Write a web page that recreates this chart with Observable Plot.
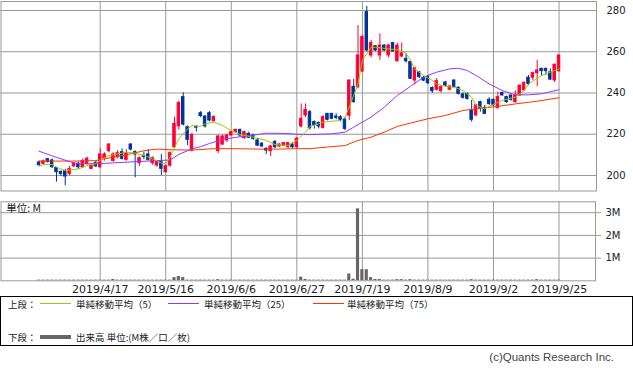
<!DOCTYPE html>
<html><head><meta charset="utf-8">
<script src="https://cdn.jsdelivr.net/npm/d3@7"></script>
<script src="https://cdn.jsdelivr.net/npm/@observablehq/plot@0.6"></script>
<style>
body{margin:0;background:#fff;width:633px;height:372px;position:relative;overflow:hidden;font-family:"DejaVu Sans",sans-serif;}
#price{position:absolute;left:0;top:0;}
#vol{position:absolute;left:0;top:200px;}
#legend{position:absolute;left:0;top:296px;width:631px;height:48px;border:1px solid #000;font-family:"Noto Sans CJK JP",sans-serif;font-size:9.5px;color:#222;}
#legend span{position:absolute;white-space:nowrap;line-height:12px;}
#legend i{position:absolute;display:block;}
#copy{position:absolute;right:19px;top:351px;font-family:"Liberation Sans",sans-serif;font-size:11.5px;color:#444;white-space:nowrap;}
</style></head>
<body>
<div id="price"></div>
<div id="vol"></div>
<div id="legend"></div>
<div id="copy"></div>
<script>
// ---- data ----
const open  = [206.3,205.7,207.9,207.3,203.6,201.8,202.1,200.8,204.4,205.7,204,205.7,203.2,206,204,208.1,211.8,207,208.9,211.3,207.6,215,211.3,206,209.5,210.2,206,204.8,206.5,201.6,204.8,213.7,223.8,238,223.4,212.1,223.5,230.2,228.6,230.2,226.3,211.8,215,217,219.4,221,222.1,218.1,220.2,219.4,217,215.4,212.9,211.8,216.2,214.1,214.5,213.7,215,213.7,223.8,229.1,230.7,225.9,225.4,223.1,229.9,229.9,228.6,228.3,227,229,243,242.8,250.4,279.2,258.2,262.7,258.2,263,258.2,264.2,255.4,257.7,256.6,255,246.1,250,247.4,247.7,242.4,241.6,240.9,245.1,241.6,246,242.5,239.3,239.6,231.5,229.1,235.6,232.8,236.7,236.7,232.8,240,238,238.8,235.6,238.8,241.3,247.4,247.4,249.6,251.7,251.7,250,246.1,250.6];
const high  = [207,207.5,208.3,208,204,202.1,203,204.5,206,206.5,208,209,205.5,207,212.9,211,215.5,211,212,212.9,212.5,215.5,212,209,211.3,212.6,209,207,210.2,205,211.5,228.3,236,240.1,224,220.5,224.2,231,229,231,229,219.5,219.5,220,221.5,222.5,222.5,221.5,221,220,218,216,213.5,214.5,217,215.5,216,216,216,218.5,234.7,234.7,231.5,226.5,226,229,230,230,229.9,229,228,246.5,246.6,272.7,268,282,265.5,263,268.7,263.5,263.5,264.5,264.2,264.2,259,255.5,252.5,250.5,248,248.5,243,247,243.5,245.5,243.5,246.5,243,240,240,236.4,234.5,236,234,237.7,237,240.4,240.5,238.5,239,241,243.6,245.5,248.5,250,255.8,252,252,251.7,254,258.2];
const low   = [204.5,205,206,203.5,196.8,199.5,195,200,204,203,203.5,205,203,204,203.5,207,211,206.5,208,207.5,207,212,198.9,204.4,207.6,207,205,204,200,201,204,213,222,224,214.5,211.5,221,228,223,226,226,210.5,214.5,216,219,220.5,218.5,217.5,218,217,214,213.5,210.2,209.2,213,213.5,214,213,213,213,223,228,222,222.5,222.6,222.5,226.5,227,227,225.9,221.8,226.7,235,242,250,260,257,260,255.8,260,257,260,255,257,254.5,246.5,244,247,245.5,244,239.8,241,240,243,241,242.5,239,237,236.5,225.9,228.5,230.7,229.5,234,233.5,232,238.5,235,236,235,238.5,241,243.5,246,243,248,248.5,246,245,250];
const close = [205,206.8,206.6,204,201.6,200.8,199.5,203.2,205.7,204,207,208.1,204.8,204.4,210.2,210.2,215,210.2,210.8,208.1,210.8,212.6,210.2,208.4,209,207.6,208.4,206.5,203.2,204.5,210.8,225,235.1,224.7,217.3,219.6,223.2,228.8,223.8,226.7,228.3,218.9,218.9,219.4,221,222.1,219.4,221,218.3,217.8,214.5,214.1,212.1,214.1,213.7,215,215.7,215.7,213.7,217.8,227.5,231.8,223,224.5,223.8,228.3,227,227.5,228,227,222.6,246,235.6,258.2,267.1,260.6,264.2,260.6,263,260.6,263,260.1,263,259.2,255.4,246.9,252,247.7,246,244.8,240.9,245.7,242.8,243.6,243.2,242.8,239.6,237.7,237.2,227,234,232.8,229.9,234.7,234,238,238.8,235.6,236.7,238.8,243.6,244.8,244.4,249.6,250.9,250.6,250.6,246.5,253.7,258.2];
// volume, millions of shares
const volume = [0.03,0.03,0.03,0.03,0.03,0.03,0.03,0.03,0.03,0.03,0.03,0.03,0.03,0.03,0.03,0.03,0.03,0.06,0.03,0.03,0.03,0.03,0.03,0.03,0.03,0.03,0.03,0.03,0.03,0.03,0.03,0.14,0.19,0.14,0.03,0.03,0.03,0.03,0.03,0.03,0.03,0.05,0.03,0.03,0.03,0.03,0.03,0.03,0.03,0.03,0.03,0.03,0.03,0.03,0.03,0.03,0.03,0.03,0.03,0.03,0.16,0.06,0.03,0.03,0.03,0.03,0.03,0.03,0.03,0.03,0.03,0.3,0.07,3.17,0.49,0.49,0.14,0.06,0.06,0.03,0.03,0.03,0.05,0.05,0.03,0.05,0.03,0.03,0.03,0.03,0.03,0.03,0.03,0.03,0.03,0.03,0.03,0.03,0.03,0.05,0.03,0.03,0.03,0.03,0.03,0.03,0.03,0.03,0.03,0.03,0.03,0.03,0.03,0.03,0.05,0.03,0.03,0.03,0.03,0.03];
// moving averages: [trading-day index, value]
const ma5 = [[0,204.4],[1,205.3],[3,205.3],[4,204],[6,202.4],[9,203.2],[11,204.8],[13,205.7],[14,207.3],[16,209.7],[19,210.8],[20,211.3],[22,210.8],[24,209.7],[26,208.1],[28,206],[29,205.7],[30,208.9],[32,217.8],[34,222.6],[35,224.2],[37,223.8],[38,225],[40,225.9],[42,224.2],[44,221.8],[46,219.9],[49,218.6],[52,217],[54,215],[57,214.5],[59,217],[61,221],[62,223.8],[64,225],[65,225.9],[67,226.3],[69,226.7],[70,228.3],[71,233.1],[73,244.4],[74,255.8],[76,262.2],[77,262.2],[80,261.4],[82,260.9],[84,259.3],[85,255.8],[86,251.7],[88,248.5],[90,246.1],[91,244.4],[93,243.2],[95,242.8],[97,241.2],[99,238],[100,234],[102,232.3],[103,233.5],[106,236.4],[108,237.5],[109,238],[111,241.2],[112,244.4],[115,248.5],[117,250.1],[119,251.7]];
const ma25 = [[0,211.8],[3,209.5],[7,206.7],[9,205.7],[13,205.7],[16,206],[22,206.7],[28,207.3],[30,207.5],[32,210.2],[35,212.9],[37,214],[39,215.5],[42,217.5],[45,218.5],[49,219.5],[52,220.5],[56,220.4],[59,220],[62,219.8],[67,220.2],[70,221],[72,223.4],[74,225.9],[76,228.3],[79,233.1],[82,238.8],[85,243.2],[88,247.7],[91,250.1],[94,251.7],[96,252],[98,250.9],[100,248.5],[103,244.4],[106,241.2],[109,239.1],[112,239.1],[115,239.6],[119,241.6]];
const ma75 = [[0,207],[8,207],[13,207.2],[16,208.5],[20,210],[24,212],[27,212.8],[30,212.5],[35,212.3],[40,213],[45,213],[50,212.8],[55,212.8],[59,213],[62,213],[66,213.8],[70,214.5],[73,217],[76,218.6],[79,221],[82,223.8],[85,225.4],[89,227.5],[93,229.1],[97,231.5],[100,232.3],[105,233.5],[109,234.7],[114,236],[119,237.7]];
const priceTicks = [200,220,240,260,280];
const volTicks = [1,2,3];
const tickIdx = [14,29,44,59,74,89,104,119];
const tickLabels = ["2019/4/17","2019/5/16","2019/6/6","2019/6/27","2019/7/19","2019/8/9","2019/9/2","2019/9/25"];
const legendTop = ["単純移動平均（5）","単純移動平均（25）","単純移動平均（75）"];
const legendBottom = "出来高 単位:(M株／口／枚)";

// ---- styles ----
const UP = "#FF0033", DOWN = "#003399";
const C5 = "#99CC00", C25 = "#9933FF", C75 = "#FF3300";
const GRID = "#999";

const candles = open.map((o, i) => ({i, o, h: high[i], l: low[i], c: close[i], v: volume[i]}));
const col = d => d.c >= d.o ? UP : DOWN;
const toPts = a => a.map(([i, v]) => ({i, v}));

const price = Plot.plot({
  width: 633, height: 192,
  marginTop: 1, marginBottom: 1.5, marginLeft: 0.5, marginRight: 37,
  x: {domain: [-8.7, 127.57], axis: null},
  y: {domain: [192.48, 284.36], axis: null},
  style: {fontFamily: "DejaVu Sans", fontSize: "10px", color: "#222", background: "transparent", overflow: "visible"},
  marks: [
    Plot.gridY(priceTicks, {stroke: GRID, strokeOpacity: 1}),
    Plot.gridX(tickIdx, {stroke: GRID, strokeOpacity: 1}),
    Plot.frame({stroke: GRID}),
    Plot.axisY(priceTicks, {anchor: "right", tickSize: 0, tickPadding: 10, label: null, fill: "#222"}),
    Plot.ruleX(candles, {x: "i", y1: "l", y2: "h", stroke: col, strokeWidth: 1}),
    Plot.rect(candles, {x1: d => d.i - 0.28, x2: d => d.i + 0.28, y1: "o", y2: "c", fill: col, stroke: col, strokeWidth: 1}),
    Plot.line(toPts(ma75), {x: "i", y: "v", stroke: C75, strokeWidth: 1}),
    Plot.line(toPts(ma25), {x: "i", y: "v", stroke: C25, strokeWidth: 1}),
    Plot.line(toPts(ma5), {x: "i", y: "v", stroke: C5, strokeWidth: 1})
  ]
});
document.getElementById("price").append(price);

const vol = Plot.plot({
  width: 633, height: 100,
  marginTop: 1.3, marginBottom: 19.7, marginLeft: 0.5, marginRight: 38,
  x: {domain: [-8.7, 127.35], axis: null},
  y: {domain: [0, 3.48], axis: null},
  style: {fontFamily: "DejaVu Sans", fontSize: "10px", color: "#222", background: "transparent", overflow: "visible"},
  marks: [
    Plot.gridY(volTicks, {stroke: GRID, strokeOpacity: 1}),
    Plot.gridX(tickIdx, {stroke: GRID, strokeOpacity: 1}),
    Plot.rectY(candles, {x1: d => d.i - 0.36, x2: d => d.i + 0.36, y: "v", fill: "#666"}),
    Plot.frame({stroke: GRID}),
    Plot.axisY(volTicks, {anchor: "right", tickSize: 5, tickPadding: 5, stroke: GRID, label: null, tickFormat: d => d + "M", fill: "#222"}),
    Plot.axisX(tickIdx, {anchor: "bottom", tickSize: 0, tickPadding: 4, label: null, tickFormat: d => tickLabels[tickIdx.indexOf(d)], fontSize: 11, fill: "#222"}),
    Plot.text(["単位: M"], {frameAnchor: "top-left", dx: 5.2, dy: 2.5, lineAnchor: "top", textAnchor: "start", fontSize: 10.5, fontFamily: "Noto Sans CJK JP", fill: "#222"})
  ]
});
document.getElementById("vol").append(vol);

// legend
const lg = document.getElementById("legend");
function add(html, x, y, style) {
  const s = document.createElement("span");
  s.textContent = html; s.style.left = x + "px"; s.style.top = y + "px";
  if (style) Object.assign(s.style, style);
  lg.append(s);
}
function bar(x, y, w, h, c) {
  const b = document.createElement("i");
  Object.assign(b.style, {left: x + "px", top: y + "px", width: w + "px", height: h + "px", background: c});
  lg.append(b);
}
add("上段：", 7, 0.5);
bar(39, 6, 31, 1, C5); add(legendTop[0], 75, 0.5);
bar(167, 6, 31, 1, C25); add(legendTop[1], 203, 0.5);
bar(312, 6, 31, 1, C75); add(legendTop[2], 346, 0.5);
add("下段：", 7, 34);
bar(39, 38, 31, 3.5, "#666"); add(legendBottom, 75, 34);

document.getElementById("copy").textContent = "(c)Quants Research Inc.";
</script>
</body></html>
